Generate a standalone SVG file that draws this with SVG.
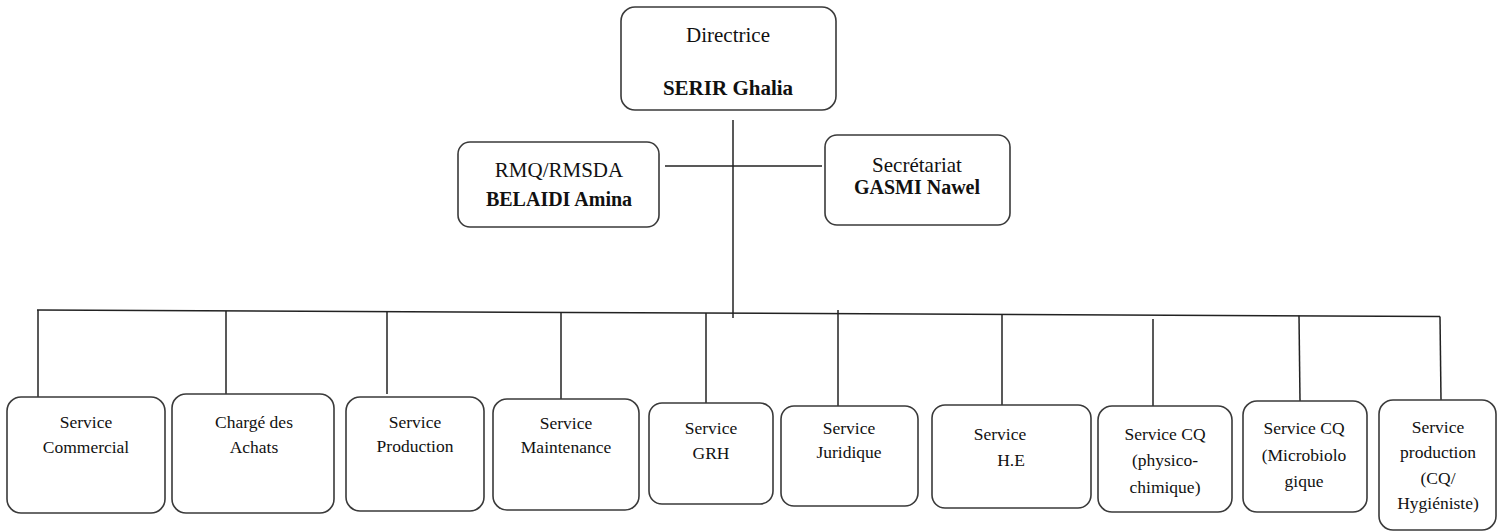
<svg xmlns="http://www.w3.org/2000/svg" width="1497" height="531" viewBox="0 0 1497 531">
<style>
.box{fill:#fff;stroke:#3a3a3a;stroke-width:1.6}
.ln{stroke:#222;stroke-width:1.5;fill:none}
.txt text{fill:#111;text-anchor:middle}
.t{font-size:21px}
.b{font-size:20px;font-weight:bold}
.s{font-size:17.5px}
</style>
<rect width="1497" height="531" fill="#fff"/>
<g id="connectors">
<line class="ln" x1="733" y1="120" x2="733" y2="318"/>
<line class="ln" x1="665" y1="166" x2="822" y2="166"/>
<line class="ln" x1="37" y1="310" x2="1440" y2="316.5"/>
<line class="ln" x1="38" y1="310" x2="38" y2="399"/>
<line class="ln" x1="226" y1="311" x2="226" y2="394"/>
<line class="ln" x1="387" y1="311.6" x2="387" y2="394"/>
<line class="ln" x1="561" y1="312.4" x2="561" y2="399"/>
<line class="ln" x1="706" y1="313.1" x2="706" y2="403"/>
<line class="ln" x1="838" y1="310" x2="838" y2="406"/>
<line class="ln" x1="1002" y1="314.5" x2="1002" y2="407"/>
<line class="ln" x1="1153" y1="319" x2="1153" y2="407"/>
<line class="ln" x1="1299" y1="315.8" x2="1300" y2="401"/>
<line class="ln" x1="1440" y1="316.5" x2="1441" y2="400"/>
</g>
<g class="txt" font-family="Liberation Serif, Tinos, DejaVu Serif, serif">
<g id="directrice">
<rect class="box" x="621" y="7" width="215" height="103" rx="14"/>
<text class="t" x="728" y="42">Directrice</text>
<text class="b" x="728" y="95" style="font-size:21px">SERIR Ghalia</text>
</g>
<g id="rmq">
<rect class="box" x="458" y="142" width="201" height="85" rx="12"/>
<text class="t" x="559" y="177">RMQ/RMSDA</text>
<text class="b" x="559" y="206">BELAIDI Amina</text>
</g>
<g id="secretariat">
<rect class="box" x="825" y="135" width="185" height="90" rx="12"/>
<text class="t" x="917" y="172">Secrétariat</text>
<text class="b" x="917" y="194">GASMI Nawel</text>
</g>
<g id="commercial">
<rect class="box" x="7" y="397" width="158" height="116" rx="14"/>
<text class="s" x="86" y="428">Service</text>
<text class="s" x="86" y="453">Commercial</text>
</g>
<g id="achats">
<rect class="box" x="172" y="394" width="162" height="119" rx="14"/>
<text class="s" x="254" y="428">Chargé des</text>
<text class="s" x="254" y="453">Achats</text>
</g>
<g id="production">
<rect class="box" x="346" y="397" width="138" height="114" rx="14"/>
<text class="s" x="415" y="428">Service</text>
<text class="s" x="415" y="452">Production</text>
</g>
<g id="maintenance">
<rect class="box" x="493" y="399" width="146" height="111" rx="14"/>
<text class="s" x="566" y="429">Service</text>
<text class="s" x="566" y="453">Maintenance</text>
</g>
<g id="grh">
<rect class="box" x="649" y="403" width="124" height="101" rx="13"/>
<text class="s" x="711" y="434">Service</text>
<text class="s" x="711" y="459">GRH</text>
</g>
<g id="juridique">
<rect class="box" x="781" y="406" width="137" height="100" rx="13"/>
<text class="s" x="849" y="434">Service</text>
<text class="s" x="849" y="458">Juridique</text>
</g>
<g id="he">
<rect class="box" x="932" y="405" width="159" height="103" rx="13"/>
<text class="s" x="1000" y="440">Service</text>
<text class="s" x="1011" y="466">H.E</text>
</g>
<g id="cq-physico">
<rect class="box" x="1098" y="406" width="134" height="106" rx="14"/>
<text class="s" x="1165" y="440">Service CQ</text>
<text class="s" x="1165" y="466">(physico-</text>
<text class="s" x="1165" y="493">chimique)</text>
</g>
<g id="cq-micro">
<rect class="box" x="1243" y="401" width="124" height="111" rx="14"/>
<text class="s" x="1304" y="434">Service CQ</text>
<text class="s" x="1304" y="461">(Microbiolo</text>
<text class="s" x="1304" y="487">gique</text>
</g>
<g id="prod-cq">
<rect class="box" x="1379" y="400" width="117" height="130" rx="14"/>
<text class="s" x="1438" y="433">Service</text>
<text class="s" x="1438" y="458">production</text>
<text class="s" x="1438" y="484">(CQ/</text>
<text class="s" x="1438" y="509">Hygiéniste)</text>
</g>
</g>
</svg>
